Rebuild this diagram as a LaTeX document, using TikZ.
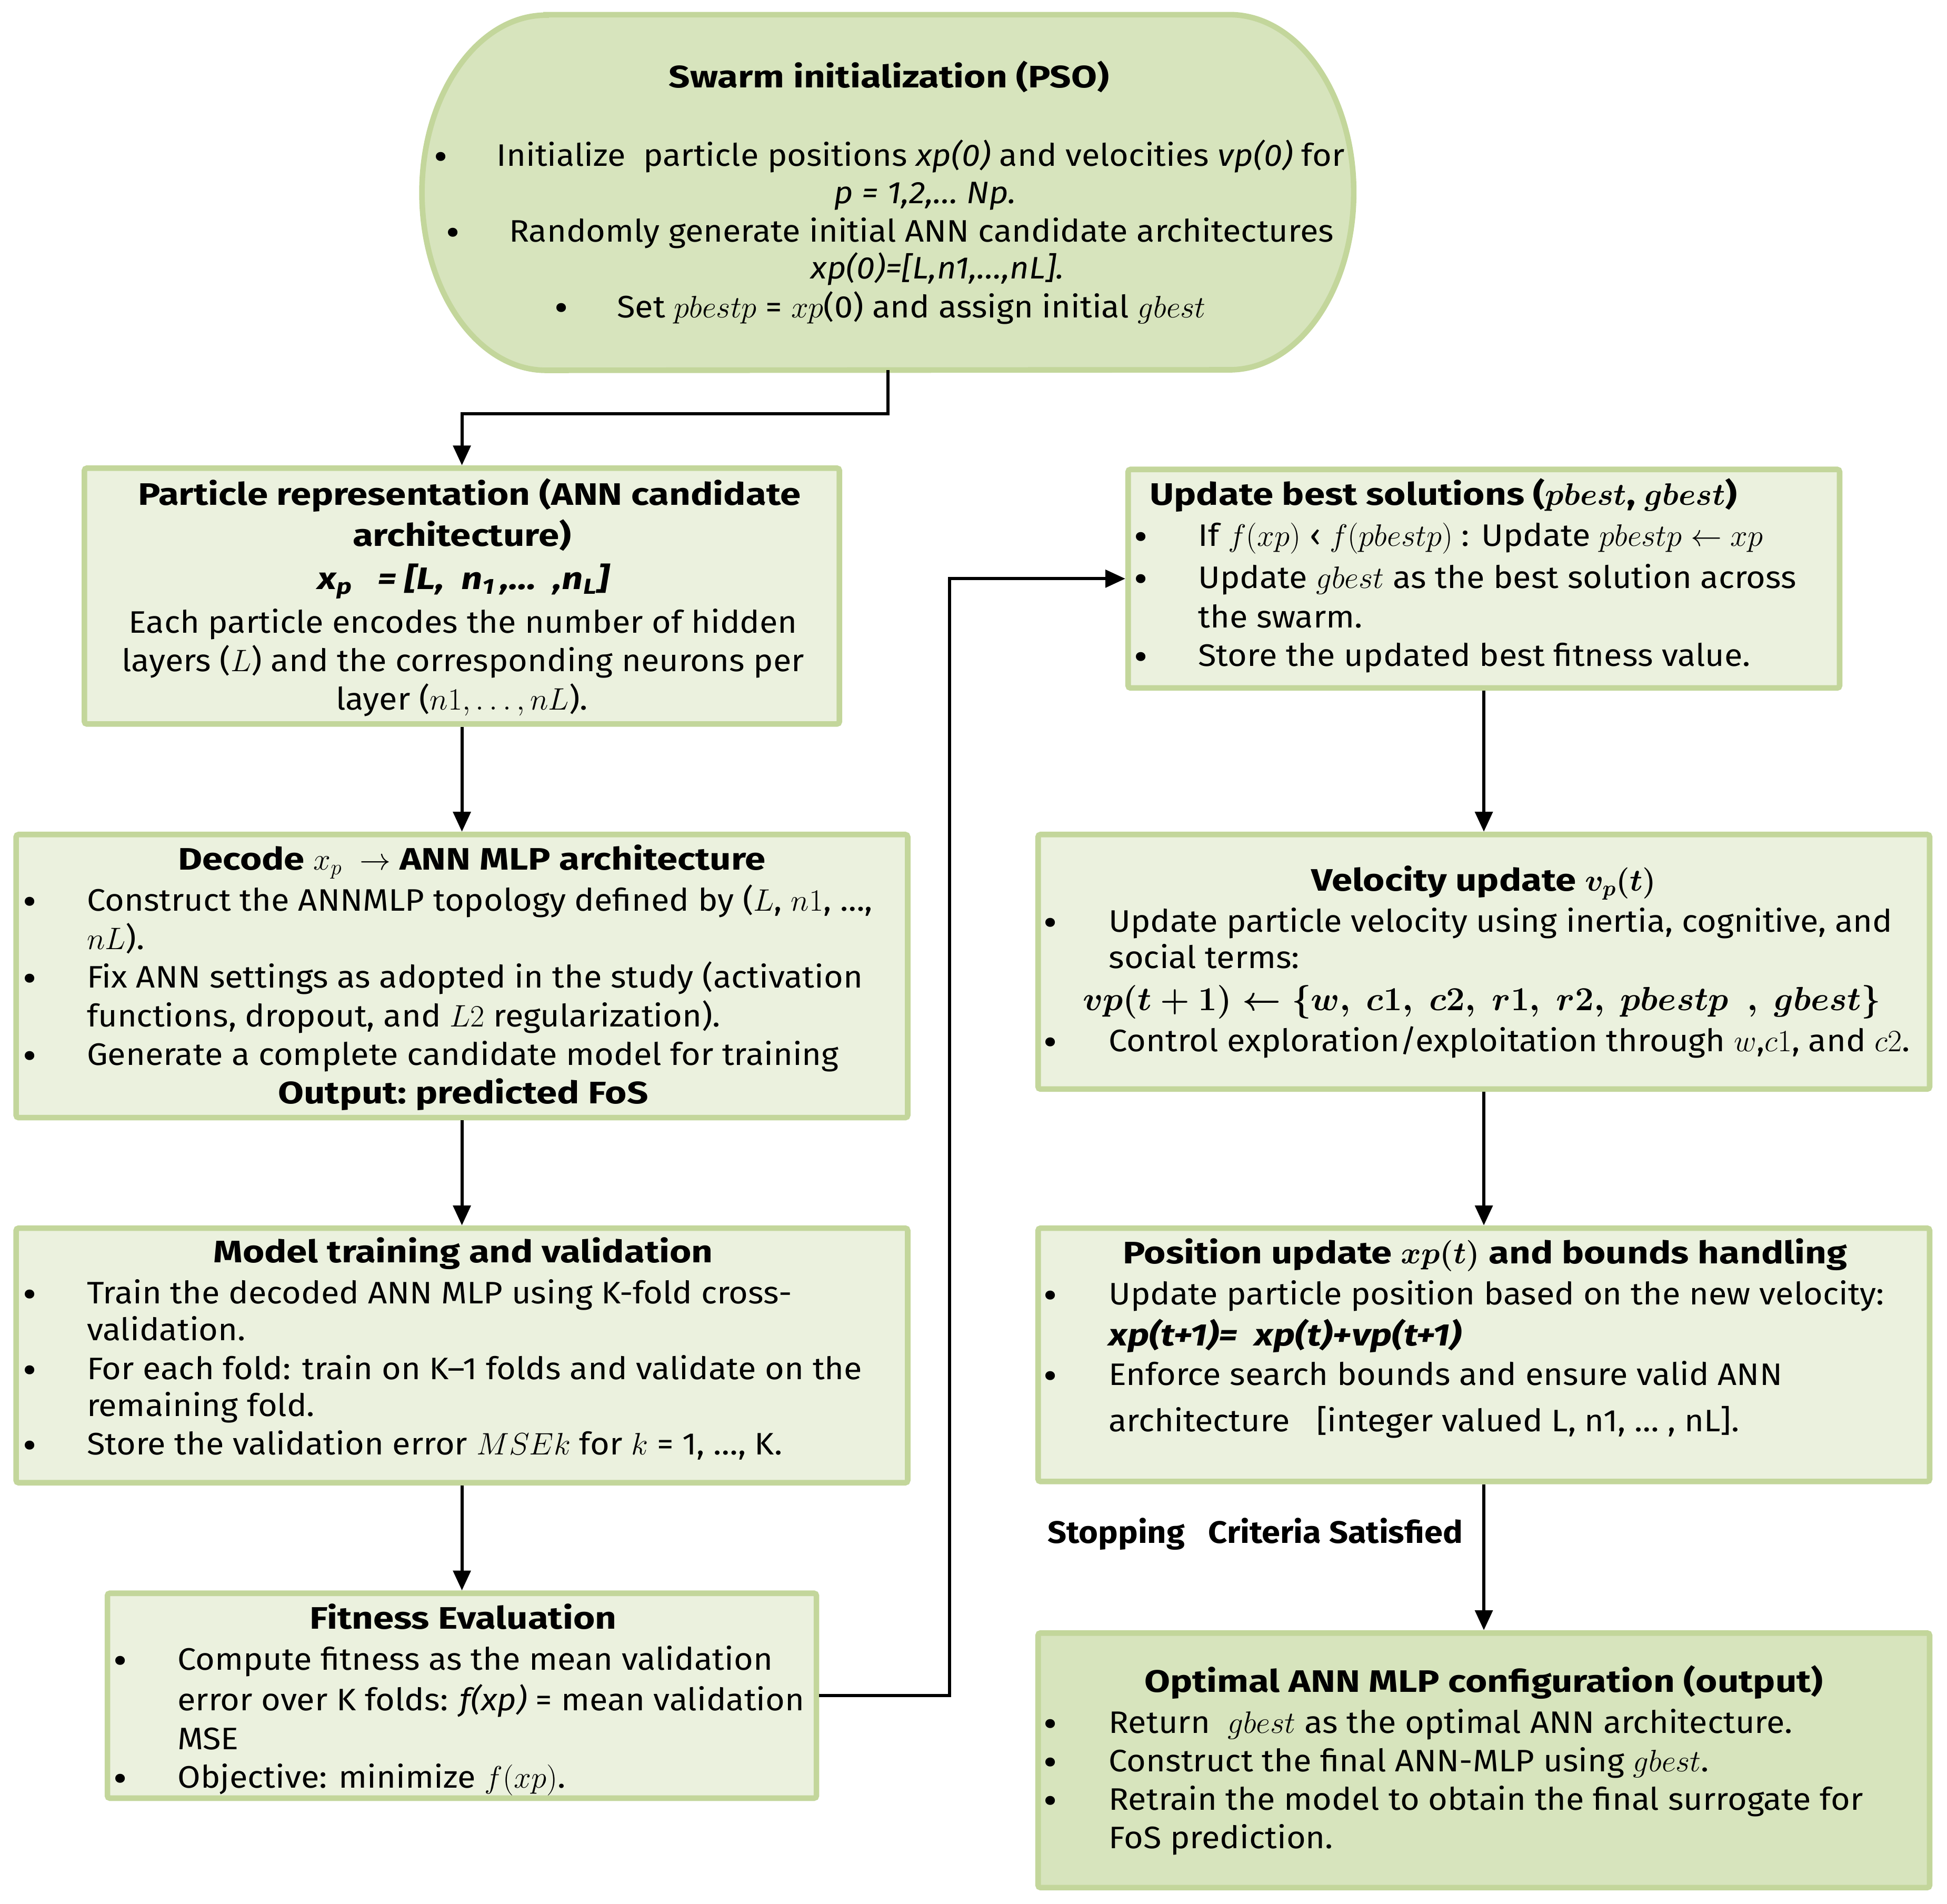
\RequirePackage{fix-cm}
\documentclass[tikz,border=0pt]{standalone}
\usepackage{fontspec}
\setmainfont{Fira Sans}[FakeStretch=1.07]
\newfontfamily\tf{Fira Sans}[FakeStretch=1.2]
\usetikzlibrary{arrows.meta}
\definecolor{bfill}{HTML}{EBF1DE}
\definecolor{dfill}{HTML}{D7E4BD}
\definecolor{bline}{HTML}{C3D69B}
\newcounter{tl}
\tikzset{
  txt/.style={inner sep=0pt, outer sep=0pt, yshift=-4pt, font=\fontsize{25}{30}\selectfont},
  bul/.style={inner sep=0pt, outer sep=0pt, anchor=base, yshift=-10pt, font=\fontsize{32}{32}\selectfont},
  box/.style={draw=bline, fill=bfill, line width=4.5pt, rounded corners=2pt, inner sep=0pt},
  dbox/.style={box, fill=dfill},
  arr/.style={line width=2.6pt, -{Triangle[length=16pt,width=14pt]}},
}
\newcommand\bm[1]{{\boldmath$#1$}}
\newcommand\B{\tf\bfseries}
\newcommand\TL[3]{\stepcounter{tl}\edef\nm{tl\arabic{tl}}\node[txt,anchor=mid west] (\nm) at (#1,#2) {#3};}
\newcommand\TC[3]{\stepcounter{tl}\edef\nm{tl\arabic{tl}}\node[txt,anchor=mid] (\nm) at (#1,#2) {#3};}
\newcommand\BU[2]{\stepcounter{tl}\edef\nm{tl\arabic{tl}}\node[bul] (\nm) at (#1,#2) {\smash{\textbullet}};}
\begin{document}
\begin{tikzpicture}[x=1pt,y=-1pt]
\useasboundingbox (0,0) rectangle (1568,1533);
% ---------- stadium
\node[minimum width=750pt, minimum height=286pt, inner sep=0pt] (init) at (715,155) {};
\draw[draw=bline, fill=dfill, line width=4.5pt]
  ([xshift=100pt]init.north west) -- ([xshift=-100pt]init.north east)
  arc[start angle=90, end angle=-90, x radius=100pt, y radius=143pt]
  -- ([xshift=100pt]init.south west)
  arc[start angle=270, end angle=90, x radius=100pt, y radius=143pt] -- cycle;
% ---------- boxes
\node[box, minimum width=608pt, minimum height=206pt] (part) at (372,480) {};
\node[box, minimum width=718pt, minimum height=228pt] (dec) at (372,786) {};
\node[box, minimum width=718pt, minimum height=205pt] (mod) at (372,1091.5) {};
\node[box, minimum width=571pt, minimum height=165pt] (fit) at (372,1365.5) {};
\node[box, minimum width=573pt, minimum height=176pt] (upd) at (1195,466) {};
\node[box, minimum width=718pt, minimum height=205pt] (vel) at (1195,774.5) {};
\node[box, minimum width=718pt, minimum height=204pt] (pos) at (1195,1091) {};
\node[dbox, minimum width=718pt, minimum height=205pt] (opt) at (1195,1417.5) {};
% ---------- connectors
\draw[arr] (init.south) -- ++(0,35) -| (part.north);
\draw[arr] (part.south) -- (dec.north);
\draw[arr] (dec.south) -- (mod.north);
\draw[arr] (mod.south) -- (fit.north);
\draw[arr] (fit.east) -- ++(105,0) |- (upd.west);
\draw[arr] (upd.south) -- (vel.north);
\draw[arr] (vel.south) -- (pos.north);
\draw[arr] (pos.south) -- (opt.north);
\node[txt, anchor=mid east] (stop) at (1178,1236) {\bfseries Stopping\ \ \ Criteria Satisfied};
% ---------- stadium text
\TC{716}{64}{\B Swarm initialization (PSO)}
\BU{355}{127}\TL{400}{127}{Initialize\ \ particle positions \textit{xp(0)} and velocities \textit{vp(0)} for}
\TC{745}{157}{\textit{p = 1,2,… Np.}}
\BU{365}{188}\TL{410}{188}{Randomly generate initial ANN candidate architectures}
\TC{755}{218}{\textit{xp(0)=[L,n1,…,nL].}}
\BU{452}{249}\TL{497}{249}{Set $pbestp$ = $xp$(0) and assign initial $gbest$}
% ---------- particle
\TC{378}{400}{\B Particle representation (ANN candidate}
\TC{372}{433}{\B architecture)}
\TC{373}{468}{\B\itshape x\textsubscript{p}\ \ \ = [L,\ \ n\textsubscript{1}\,,…\ \ ,n\textsubscript{L}]}
\TC{373}{503}{Each particle encodes the number of hidden}
\TC{373}{534}{layers ($L$) and the corresponding neurons per}
\TC{372}{565}{layer ($n1,\ldots,nL$).}
% ---------- decode
\TC{380}{694}{\B Decode $x_p$\ \ $\rightarrow$ ANN MLP architecture}
\BU{24}{727}\TL{70}{727}{Construct the ANNMLP topology defined by ($L$, $n1$, …,}
\TL{70}{758}{$nL$).}
\BU{24}{789}\TL{70}{789}{Fix ANN settings as adopted in the study (activation}
\TL{70}{820}{functions, dropout, and $L2$ regularization).}
\BU{24}{851}\TL{70}{851}{Generate a complete candidate model for training}
\TC{373}{882}{\B Output:\ predicted FoS}
% ---------- model
\TC{373}{1010}{\B Model training and validation}
\BU{24}{1043}\TL{70}{1043}{Train the decoded ANN MLP using K-fold cross-}
\TL{70}{1073}{validation.}
\BU{24}{1104}\TL{70}{1104}{For each fold: train on K–1 folds and validate on the}
\TL{70}{1134}{remaining fold.}
\BU{24}{1165}\TL{70}{1165}{Store the validation error $MSEk$ for $k$ = 1, …, K.}
% ---------- fitness
\TC{373}{1305}{\B Fitness Evaluation}
\BU{97}{1338}\TL{143}{1338}{Compute fitness as the mean validation}
\TL{143}{1371}{error over K folds: \textit{f(xp)} = mean validation}
\TL{143}{1402}{MSE}
\BU{97}{1433}\TL{143}{1433}{Objective: minimize $f(xp)$.}
% ---------- update best
\TL{926}{400}{\B Update best solutions (\bm{pbest}, \bm{gbest})}
\BU{919}{433}\TL{965}{433}{If $f(xp)$ ‹ $f(pbestp)$ : Update $pbestp\leftarrow xp$}
\BU{919}{467}\TL{965}{467}{Update $gbest$ as the best solution across}
\TL{965}{499}{the swarm.}
\BU{919}{530}\TL{965}{530}{Store the updated best fitness value.}
% ---------- velocity
\TC{1195}{711}{\B Velocity update \bm{v_p(t)}}
\BU{846}{744}\TL{893}{744}{Update particle velocity using inertia, cognitive, and}
\TL{893}{773}{social terms:}
\TL{872}{807}{\fontsize{27}{30}\selectfont\bm{vp(t+1)\leftarrow\lbrace w,\ c1,\ c2,\ r1,\ r2,\ pbestp\ \ ,\ gbest\rbrace}}
\BU{846}{840}\TL{893}{840}{Control exploration/exploitation through $w$,$c1$, and $c2$.}
% ---------- position
\TC{1196}{1011}{\B Position update \bm{xp(t)} and bounds handling}
\BU{846}{1044}\TL{893}{1044}{Update particle position based on the new velocity:}
\TL{893}{1077}{\B\itshape xp(t+1)=\ \ xp(t)+vp(t+1)}
\BU{846}{1109}\TL{893}{1109}{Enforce search bounds and ensure valid ANN}
\TL{893}{1146}{architecture\ \ \ [integer valued L, n1, … , nL].}
% ---------- optimal
\TC{1195}{1356}{\B Optimal ANN MLP configuration (output)}
\BU{846}{1389}\TL{893}{1389}{Return\ \ $gbest$ as the optimal ANN architecture.}
\BU{846}{1420}\TL{893}{1420}{Construct the final ANN-MLP using $gbest$.}
\BU{846}{1451}\TL{893}{1451}{Retrain the model to obtain the final surrogate for}
\TL{893}{1482}{FoS prediction.}
\end{tikzpicture}
\end{document}
